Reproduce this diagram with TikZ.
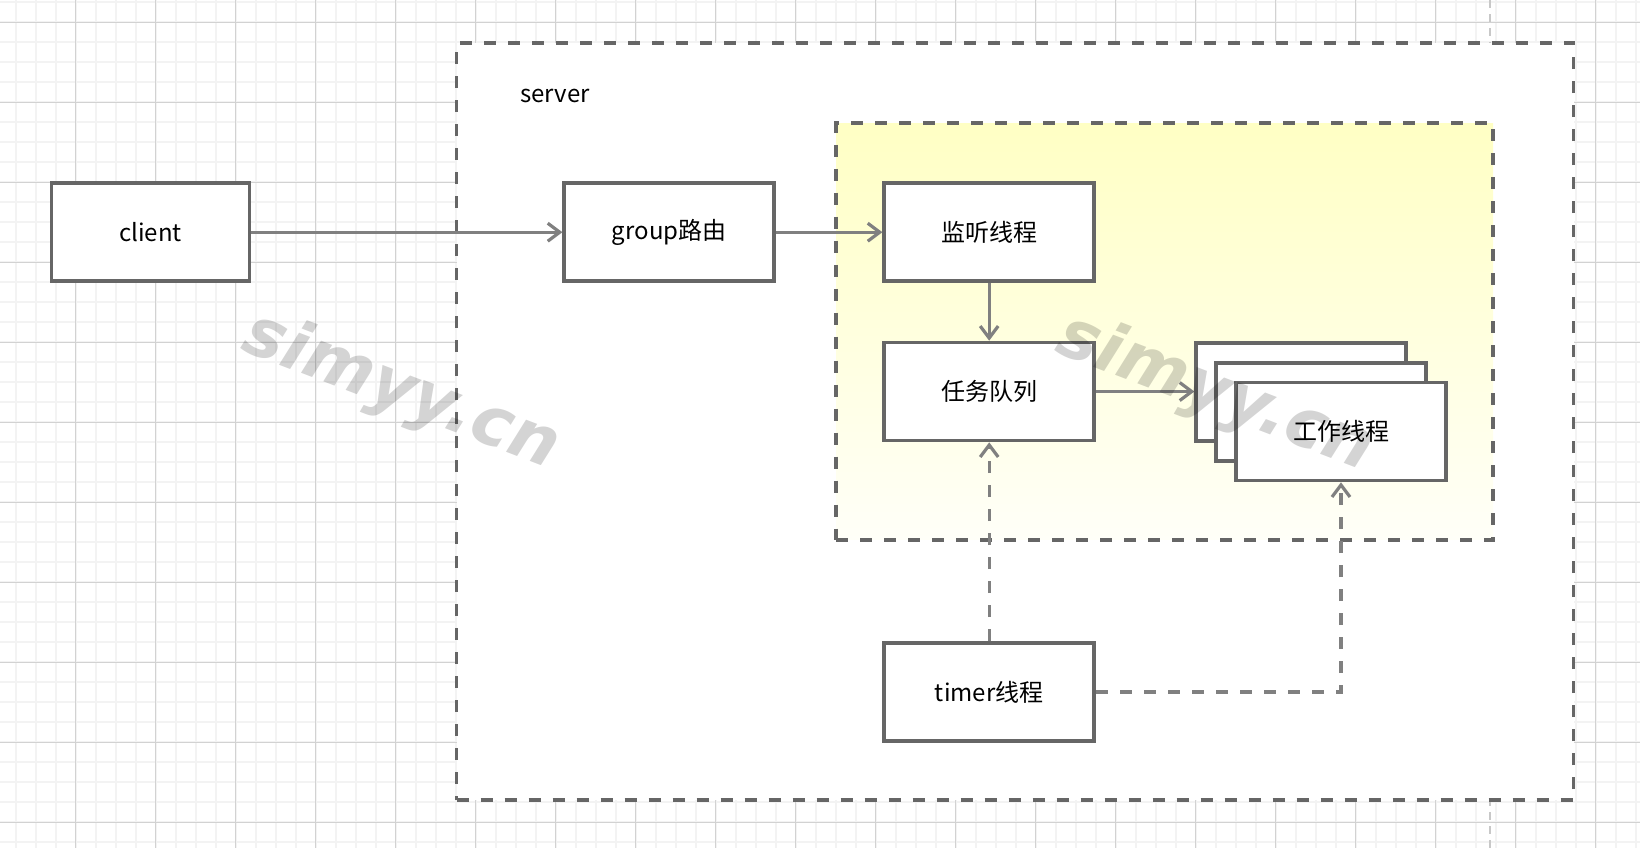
\documentclass[tikz,border=0pt]{standalone}
\usepackage{fontspec}
\setmainfont{Noto Sans CJK SC}
\newfontfamily\wmfont{DejaVu Sans}
\usetikzlibrary{arrows.meta}
\definecolor{boxline}{HTML}{666666}
\definecolor{connc}{HTML}{808080}
\definecolor{gridmin}{HTML}{F3F3F3}
\definecolor{gridmaj}{HTML}{D2D2D2}
\definecolor{ytop}{HTML}{FFFFC4}
\definecolor{ybot}{HTML}{FFFFF8}
\definecolor{pbreak}{HTML}{C8C8C8}
\begin{document}
\begin{tikzpicture}[x=0.5pt,y=-0.5pt,
  box/.style={draw=boxline,line width=1.8pt,fill=white,minimum width=105pt,minimum height=49pt,inner sep=0pt,font=\fontsize{12}{14}\selectfont},
  cbox/.style={draw=boxline,line width=1.8pt,dash pattern=on 6pt off 6pt,inner sep=0pt},
  conn/.style={draw=connc,line width=1.6pt,-{Straight Barb[length=6pt,width=9pt]}},
  dconn/.style={conn,dash pattern=on 6pt off 6pt},
  wm/.style={font=\wmfont\bfseries\itshape\fontsize{34}{34}\selectfont,text=black,text opacity=0.17,rotate=-21},
  lbl/.style={font=\fontsize{12}{14}\selectfont}]
\useasboundingbox (0,0) rectangle (1640,848);
\fill[white] (0,0) rectangle (1640,848);
% grid
\foreach \k in {0,...,81} {\draw[gridmin,line width=1pt] ({15.7+20*\k},0) -- ({15.7+20*\k},848);}
\foreach \k in {0,...,42} {\draw[gridmin,line width=1pt] (0,{2.3+20*\k}) -- (1640,{2.3+20*\k});}
\foreach \k in {0,...,19} {\draw[gridmaj,line width=0.5pt] ({75.7+80*\k},0) -- ({75.7+80*\k},848);}
\foreach \k in {0,...,10} {\draw[gridmaj,line width=0.5pt] (0,{22.3+80*\k}) -- (1640,{22.3+80*\k});}
% page break line
\draw[pbreak,line width=1pt,dash pattern=on 4pt off 3pt] (1490,0) -- (1490,848);
% containers
\node[cbox,fill=white,minimum width=558.5pt,minimum height=378.5pt] (server) at (1015,421.7) {};
\node[cbox,top color=ytop,bottom color=ybot,minimum width=328.5pt,minimum height=208.3pt] (pool) at (1164.6,331.5) {};
\node[lbl] (serverlbl) at (555,96) {server};
% boxes
\node[box,minimum width=99pt] (client) at (150.4,232.2) {client};
\node[box] (group) at (669.2,232.2) {group路由};
\node[box] (listen) at (989.2,232.2) {监听线程};
\node[box] (queue) at (989.2,391.5) {任务队列};
\node[box] (timer) at (989.2,692) {timer线程};
\node[box] (w1) at (1301.2,392) {};
\node[box] (w2) at (1321,411.7) {};
\node[box] (w3) at (1341,431.5) {工作线程};
% connectors
\draw[conn] (client) -- (group);
\draw[conn] (group) -- (listen);
\draw[conn] (listen) -- (queue);
\draw[conn] (queue.east) -- (queue.east -| w1.west);
\draw[dconn] (timer) -- (queue);
\draw[dconn] (timer.east) -| (w3.south);
% watermarks
\node[wm] (wm1) at (401,392) {simyy.cn};
\node[wm] (wm2) at (1215,394) {simyy.cn};
\end{tikzpicture}
\end{document}
